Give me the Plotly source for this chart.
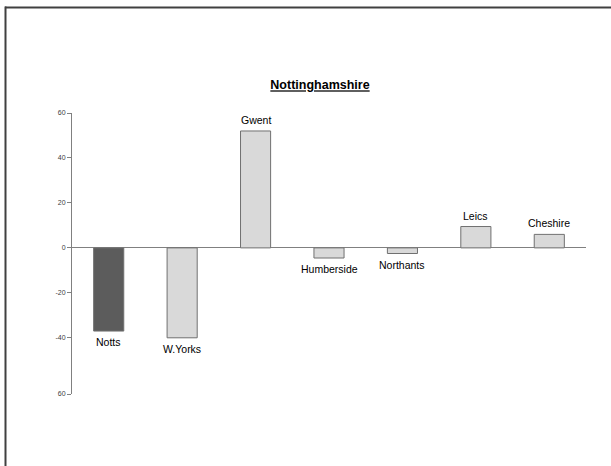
import plotly.graph_objects as go

categories = ["Notts", "W.Yorks", "Gwent", "Humberside", "Northants", "Leics", "Cheshire"]
values = [-37, -40, 52, -4.5, -2.5, 9.5, 6]
bar_colors = ["#5c5c5c", "#d9d9d9", "#d9d9d9", "#d9d9d9", "#d9d9d9", "#d9d9d9", "#d9d9d9"]
tick_vals = [-65, -40, -20, 0, 20, 40, 60]
tick_text = ["60", "-40", "-20", "0", "20", "40", "60"]
y_range = [-65, 60]
title_text = "Nottinghamshire"

W, H = 611, 466
L, R, T, B = 72, 25, 113, 72
pw, ph = W - L - R, H - T - B

fig = go.Figure(go.Bar(
    x=categories, y=values,
    marker=dict(color=bar_colors, line=dict(color="#707070", width=1)),
    width=0.41,
    hoverinfo="skip",
))

annotations = []
for c, v in zip(categories, values):
    annotations.append(dict(
        x=c, y=v, xref="x", yref="y", text=c, showarrow=False,
        yanchor="bottom" if v >= 0 else "top",
        yshift=3 if v >= 0 else -3,
        font=dict(family="Liberation Sans, Arial", size=10.5, color="#000000"),
    ))

def px_x(px):
    return (px - L) / pw

def px_y(py):
    return (H - B - py) / ph

fig.update_layout(
    width=W, height=H,
    margin=dict(l=L, r=R, t=T, b=B),
    paper_bgcolor="white", plot_bgcolor="white",
    showlegend=False,
    font=dict(family="Liberation Sans, Arial", color="#000000"),
    title=dict(text="<b><u>" + title_text + "</u></b>", x=320 / W, xanchor="center",
               y=1 - 85 / H, yanchor="middle", yref="container",
               font=dict(size=12.5, color="#000000")),
    xaxis=dict(showticklabels=False, showline=False, showgrid=False, zeroline=False,
               ticks="", range=[-0.5, 6.5]),
    yaxis=dict(range=y_range, tickvals=tick_vals, ticktext=tick_text,
               showgrid=False, showline=True, linecolor="#808080", linewidth=1,
               ticks="outside", ticklen=4, tickcolor="#808080",
               tickfont=dict(size=7, color="#404040"),
               zeroline=True, zerolinecolor="#808080", zerolinewidth=1),
    annotations=annotations,
    shapes=[
        dict(type="line", xref="paper", yref="paper",
             x0=px_x(5), x1=px_x(W + 5), y0=px_y(7.5), y1=px_y(7.5),
             line=dict(color="#404040", width=2)),
        dict(type="line", xref="paper", yref="paper",
             x0=px_x(5.5), x1=px_x(5.5), y0=px_y(6.5), y1=px_y(H + 5),
             line=dict(color="#404040", width=2)),
    ],
)

fig.write_html("out.html", config={"displayModeBar": False},
               post_script="document.body.style.margin='0';")
